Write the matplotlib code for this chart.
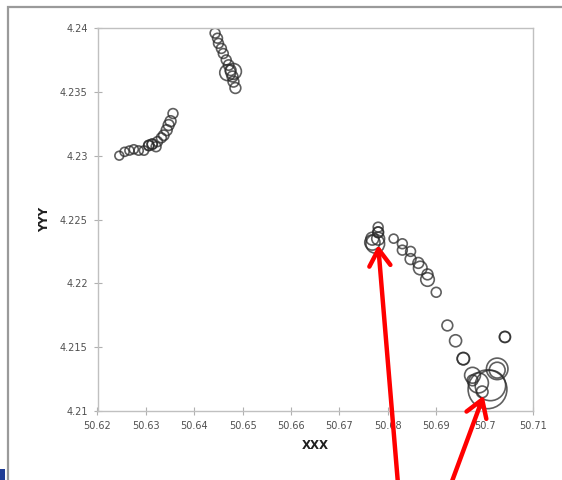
import matplotlib
matplotlib.use("Agg")
import matplotlib.pyplot as plt
from matplotlib.patches import Rectangle
from matplotlib.ticker import FixedLocator, FormatStrFormatter

# cluster points (x, y, bubble size)
x_vals = [
    50.6245, 50.6256, 50.6266, 50.6275, 50.6285, 50.6296, 50.6306, 50.6306, 50.6313, 50.6313,
    50.6321, 50.6324, 50.6332, 50.6337, 50.6343, 50.6347, 50.6351, 50.6356,
    50.6443, 50.6448, 50.6450, 50.6456, 50.6460, 50.6466, 50.6471, 50.6475, 50.6469, 50.6481,
    50.6479, 50.6481, 50.6485,
    50.6780, 50.6780, 50.6780, 50.6768, 50.6780, 50.6774, 50.6768,
    50.6812, 50.6830, 50.6830, 50.6847, 50.6847, 50.6863, 50.6867, 50.6882, 50.6882, 50.6900,
    50.6923, 50.6940, 50.6956, 50.6956, 50.6975, 50.6975, 50.6987, 50.7026, 50.7026,
    50.7006, 50.7012, 50.6995, 50.7042, 50.7042,
]
y_vals = [
    4.2300, 4.2303, 4.2304, 4.2305, 4.2304, 4.2304, 4.2308, 4.2308, 4.2309, 4.2309,
    4.2307, 4.2311, 4.2314, 4.2316, 4.2320, 4.2324, 4.2327, 4.2333,
    4.2396, 4.2392, 4.2388, 4.2384, 4.2380, 4.2375, 4.2371, 4.2367, 4.2365, 4.2366,
    4.2362, 4.2358, 4.2353,
    4.2244, 4.2240, 4.2240, 4.2235, 4.2235, 4.2231, 4.2232,
    4.2235, 4.2231, 4.2226, 4.2225, 4.2219, 4.2216, 4.2212, 4.2207, 4.2203, 4.2193,
    4.2167, 4.2155, 4.2141, 4.2141, 4.2128, 4.2124, 4.2122, 4.2132, 4.2133,
    4.2117, 4.2120, 4.2115, 4.2158, 4.2158,
]
sizes = [
    40, 42, 42, 42, 44, 44, 50, 55, 50, 55,
    50, 50, 50, 55, 60, 60, 60, 50,
    50, 50, 50, 50, 50, 50, 55, 60, 130, 130,
    60, 60, 60,
    50, 55, 60, 85, 85, 180, 120,
    42, 50, 50, 50, 60, 60, 95, 60, 95, 50,
    60, 75, 75, 80, 130, 60, 210, 130, 240,
    780, 480, 70, 60, 64,
]

x_ticks = [50.62, 50.63, 50.64, 50.65, 50.66, 50.67, 50.68, 50.69, 50.70, 50.71]
y_ticks = [4.21, 4.215, 4.22, 4.225, 4.23, 4.235, 4.24]

# arrow tips (data) and tails (figure pixels)
arrow_tips = [(50.6780, 4.2230), (50.6998, 4.2112)]
arrow_tails = [(398, -4), (451, -4)]

fig = plt.figure(figsize=(5.62, 4.80), dpi=100)
fig.patch.set_facecolor("white")

# outer frame of the pasted chart
fig.patches.append(Rectangle((8 / 562, -0.1), 1.2, 1.1 - 7 / 480, transform=fig.transFigure,
                             fill=False, edgecolor="#9a9a9a", linewidth=1.6))
fig.patches.append(Rectangle((0, 0), 5 / 562, 11 / 480, transform=fig.transFigure,
                             facecolor="#1f3c96", edgecolor="none"))

ax = fig.add_axes([97.5 / 562, 1 - 411 / 480, (533 - 97.5) / 562, (411 - 28) / 480])
ax.scatter(x_vals, y_vals, s=sizes, facecolors="none", edgecolors="#2a2a2a",
           linewidths=1.2, alpha=0.75, zorder=2)

ax.set_xlim(50.62, 50.71)
ax.set_ylim(4.21, 4.24)
ax.xaxis.set_major_locator(FixedLocator(x_ticks))
ax.yaxis.set_major_locator(FixedLocator(y_ticks))
ax.xaxis.set_major_formatter(FormatStrFormatter("%g"))
ax.yaxis.set_major_formatter(FormatStrFormatter("%g"))
ax.tick_params(direction="inout", length=6, width=0.8, color="#b0b0b0",
               labelsize=7, labelcolor="#505050", pad=4)
for sp in ax.spines.values():
    sp.set_color("#c0c0c0")
    sp.set_linewidth(1.0)

ax.set_xlabel("XXX", fontsize=8.5, fontweight="bold", color="#202020", labelpad=6)
ax.set_ylabel("YYY", fontsize=8.5, fontweight="bold", color="#202020", labelpad=6)

for tip, tail in zip(arrow_tips, arrow_tails):
    ax.annotate("", xy=tip, xycoords="data", xytext=tail, textcoords="figure pixels",
                arrowprops=dict(arrowstyle="->, head_length=0.6, head_width=0.38",
                                mutation_scale=20, color="#ff0000", lw=3.2,
                                shrinkA=0, shrinkB=0),
                annotation_clip=False, zorder=5)

fig.savefig("out.png", dpi=100)
